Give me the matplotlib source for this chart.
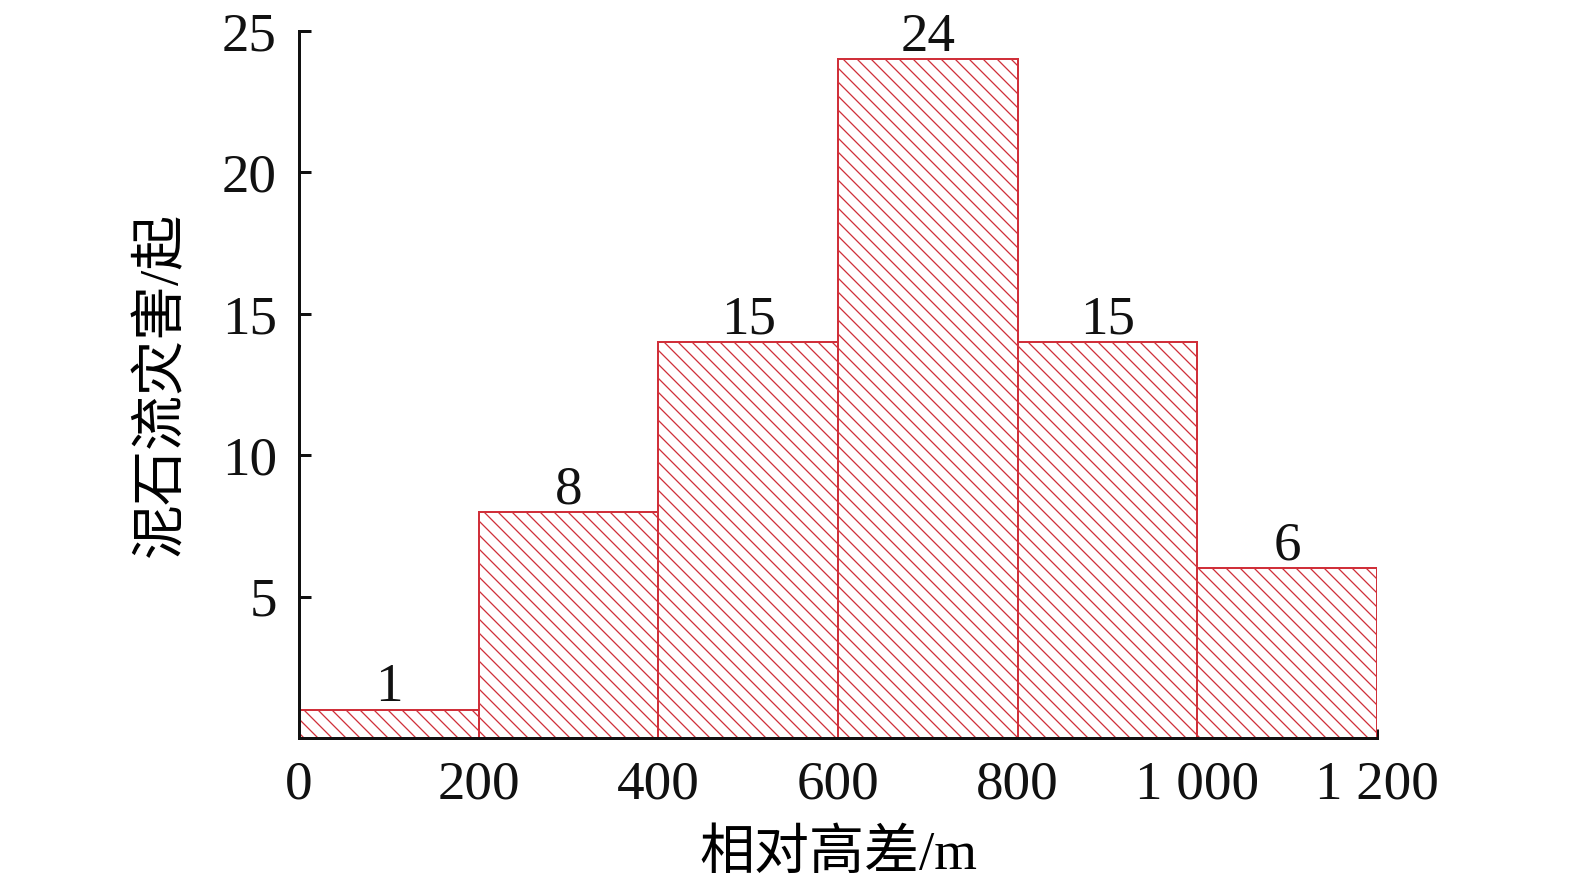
import matplotlib
matplotlib.use("Agg")
import matplotlib.pyplot as plt
import numpy as np

# bin edges (m) and counts as drawn; labels printed above the bars
bin_left = [0, 200, 400, 600, 800, 1000]
bin_width = 200
bar_heights = [1, 8, 14, 24, 14, 6]
bar_labels = ["1", "8", "15", "24", "15", "6"]

x_ticks = [0, 200, 400, 600, 800, 1000, 1200]
x_ticklabels = ["0", "200", "400", "600", "800", "1 000", "1 200"]
y_ticks = [5, 10, 15, 20, 25]

DPI = 84
PX = 72 / DPI  # points per pixel

plt.rcParams["font.family"] = ["Liberation Serif", "Noto Sans CJK SC"]
plt.rcParams["hatch.linewidth"] = 1.1
plt.rcParams["hatch.color"] = "#d0303a"

fig = plt.figure(figsize=(1575 / DPI, 889 / DPI), dpi=DPI)
ax = fig.add_axes([299 / 1575, 1 - 738 / 889, (1377 - 299) / 1575, (738 - 31) / 889])

red = "#d0303a"
ax.bar(
    bin_left,
    bar_heights,
    width=bin_width,
    align="edge",
    facecolor="white",
    edgecolor=red,
    linewidth=2.0 * PX,
    hatch="\\\\",
    zorder=2,
)

num_size = 55 * PX
for x, h, lab in zip(bin_left, bar_heights, bar_labels):
    ax.text(x + bin_width / 2, h - 0.12, lab, ha="center", va="bottom",
            fontsize=num_size, color="#111111")

ax.set_xlim(0, 1200)
ax.set_ylim(0, 25)
ax.set_xticks(x_ticks)
ax.set_xticklabels(x_ticklabels)
ax.set_yticks(y_ticks)

for side in ["top", "right"]:
    ax.spines[side].set_visible(False)
for side in ["left", "bottom"]:
    ax.spines[side].set_linewidth(3.0 * PX)
    ax.spines[side].set_color("#111111")
    ax.spines[side].set_zorder(3)

ax.tick_params(axis="y", direction="in", length=12 * PX, width=3 * PX,
               labelsize=num_size, pad=22 * PX, colors="#111111")
ax.tick_params(axis="x", direction="in", length=9 * PX, width=3 * PX,
               labelsize=num_size, pad=22 * PX, colors="#111111")

cjk_size = 55 * PX
ax.set_xlabel("相对高差/m", fontsize=cjk_size, labelpad=20 * PX)
ax.set_ylabel("泥石流灾害/起", fontsize=cjk_size, labelpad=34 * PX)

fig.savefig("out.png", dpi=DPI)
